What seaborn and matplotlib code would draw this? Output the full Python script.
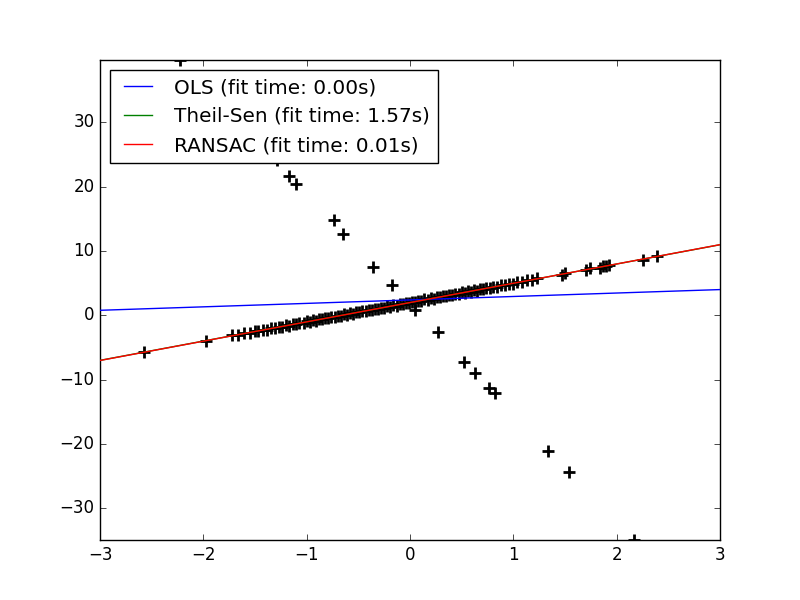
import numpy as np
import pandas as pd
import matplotlib
matplotlib.use("Agg")
import matplotlib.pyplot as plt
import seaborn as sns

# inlier points (close to y = 3x + 2)
x_in = [-2.57, -1.97, -1.72, -1.66, -1.61, -1.55, -1.50, -1.47, -1.42, -1.38,
        -1.35, -1.31, -1.27, -1.24, -1.20, -1.17, -1.13, -1.10, -1.07, -1.03,
        -1.00, -0.97, -0.94, -0.91, -0.88, -0.85, -0.82, -0.79, -0.76, -0.73,
        -0.70, -0.67, -0.64, -0.61, -0.58, -0.55, -0.52, -0.49, -0.46, -0.43,
        -0.40, -0.37, -0.34, -0.31, -0.28, -0.25, -0.22, -0.19, -0.16, -0.13,
        -0.10, -0.07, -0.04, -0.01, 0.02, 0.05, 0.08, 0.11, 0.14, 0.17,
        0.20, 0.23, 0.26, 0.29, 0.32, 0.35, 0.38, 0.41, 0.44, 0.47,
        0.50, 0.53, 0.56, 0.59, 0.62, 0.65, 0.68, 0.71, 0.74, 0.77,
        0.80, 0.84, 0.88, 0.92, 0.96, 1.00, 1.04, 1.08, 1.13, 1.18,
        1.23, 1.47, 1.50, 1.70, 1.74, 1.84, 1.87, 1.90, 1.93, 2.25, 2.39]
y_in = [-5.75, -3.95, -3.10, -3.05, -2.78, -2.70, -2.44, -2.48, -2.20, -2.22,
        -1.98, -1.99, -1.74, -1.80, -1.55, -1.58, -1.31, -1.36, -1.15, -1.17,
        -0.93, -0.99, -0.75, -0.80, -0.58, -0.62, -0.40, -0.45, -0.21, -0.27,
        -0.03, -0.08, 0.15, 0.10, 0.33, 0.27, 0.51, 0.46, 0.70, 0.63,
        0.88, 0.82, 1.05, 0.99, 1.23, 1.17, 1.42, 1.35, 1.60, 1.53,
        1.78, 1.71, 1.96, 1.89, 2.14, 2.07, 2.32, 2.25, 2.50, 2.43,
        2.68, 2.61, 2.86, 2.79, 3.04, 2.97, 3.22, 3.15, 3.40, 3.33,
        3.58, 3.51, 3.76, 3.69, 3.94, 3.87, 4.12, 4.05, 4.30, 4.23,
        4.48, 4.44, 4.72, 4.68, 4.96, 4.92, 5.20, 5.16, 5.47, 5.46,
        5.77, 6.33, 6.58, 7.02, 7.30, 7.44, 7.69, 7.62, 7.87, 8.67, 9.25]

# outliers
x_out = [-2.23, -1.29, -1.17, -1.10, -0.74, -0.65, -0.36, -0.17, 0.05,
         0.27, 0.52, 0.63, 0.76, 0.82, 1.34, 1.54, 2.17]
y_out = [39.7, 24.1, 21.6, 20.5, 14.8, 12.6, 7.6, 4.7, 0.9,
         -2.6, -7.2, -8.9, -11.2, -12.1, -21.0, -24.4, -34.9]

# fitted lines evaluated at x = -3 and x = 3
line_x = [-3, 3]
ols_y = [0.80, 4.02]
theil_y = [-6.98, 10.99]
ransac_y = [-7.00, 11.00]

labels = ["OLS (fit time: 0.00s)", "Theil-Sen (fit time: 1.57s)",
          "RANSAC (fit time: 0.01s)"]

plt.style.use("classic")
fig, ax = plt.subplots(figsize=(8, 6), dpi=100)
fig.patch.set_facecolor("white")

pts = pd.DataFrame({"x": x_in + x_out, "y": y_in + y_out})
sns.scatterplot(data=pts, x="x", y="y", marker="+", s=80, color="k",
                linewidth=2, ax=ax, zorder=3)

for ys, col, lab in zip([ols_y, theil_y, ransac_y], ["b", "g", "r"], labels):
    sns.lineplot(x=line_x, y=ys, color=col, linewidth=1, label=lab, ax=ax,
                 zorder=4)

ax.set_xlim(-3, 3)
ax.set_ylim(min(y_out), max(y_out))
ax.set_xlabel("")
ax.set_ylabel("")
ax.legend(loc="upper left")

fig.savefig("out.png", dpi=100)
